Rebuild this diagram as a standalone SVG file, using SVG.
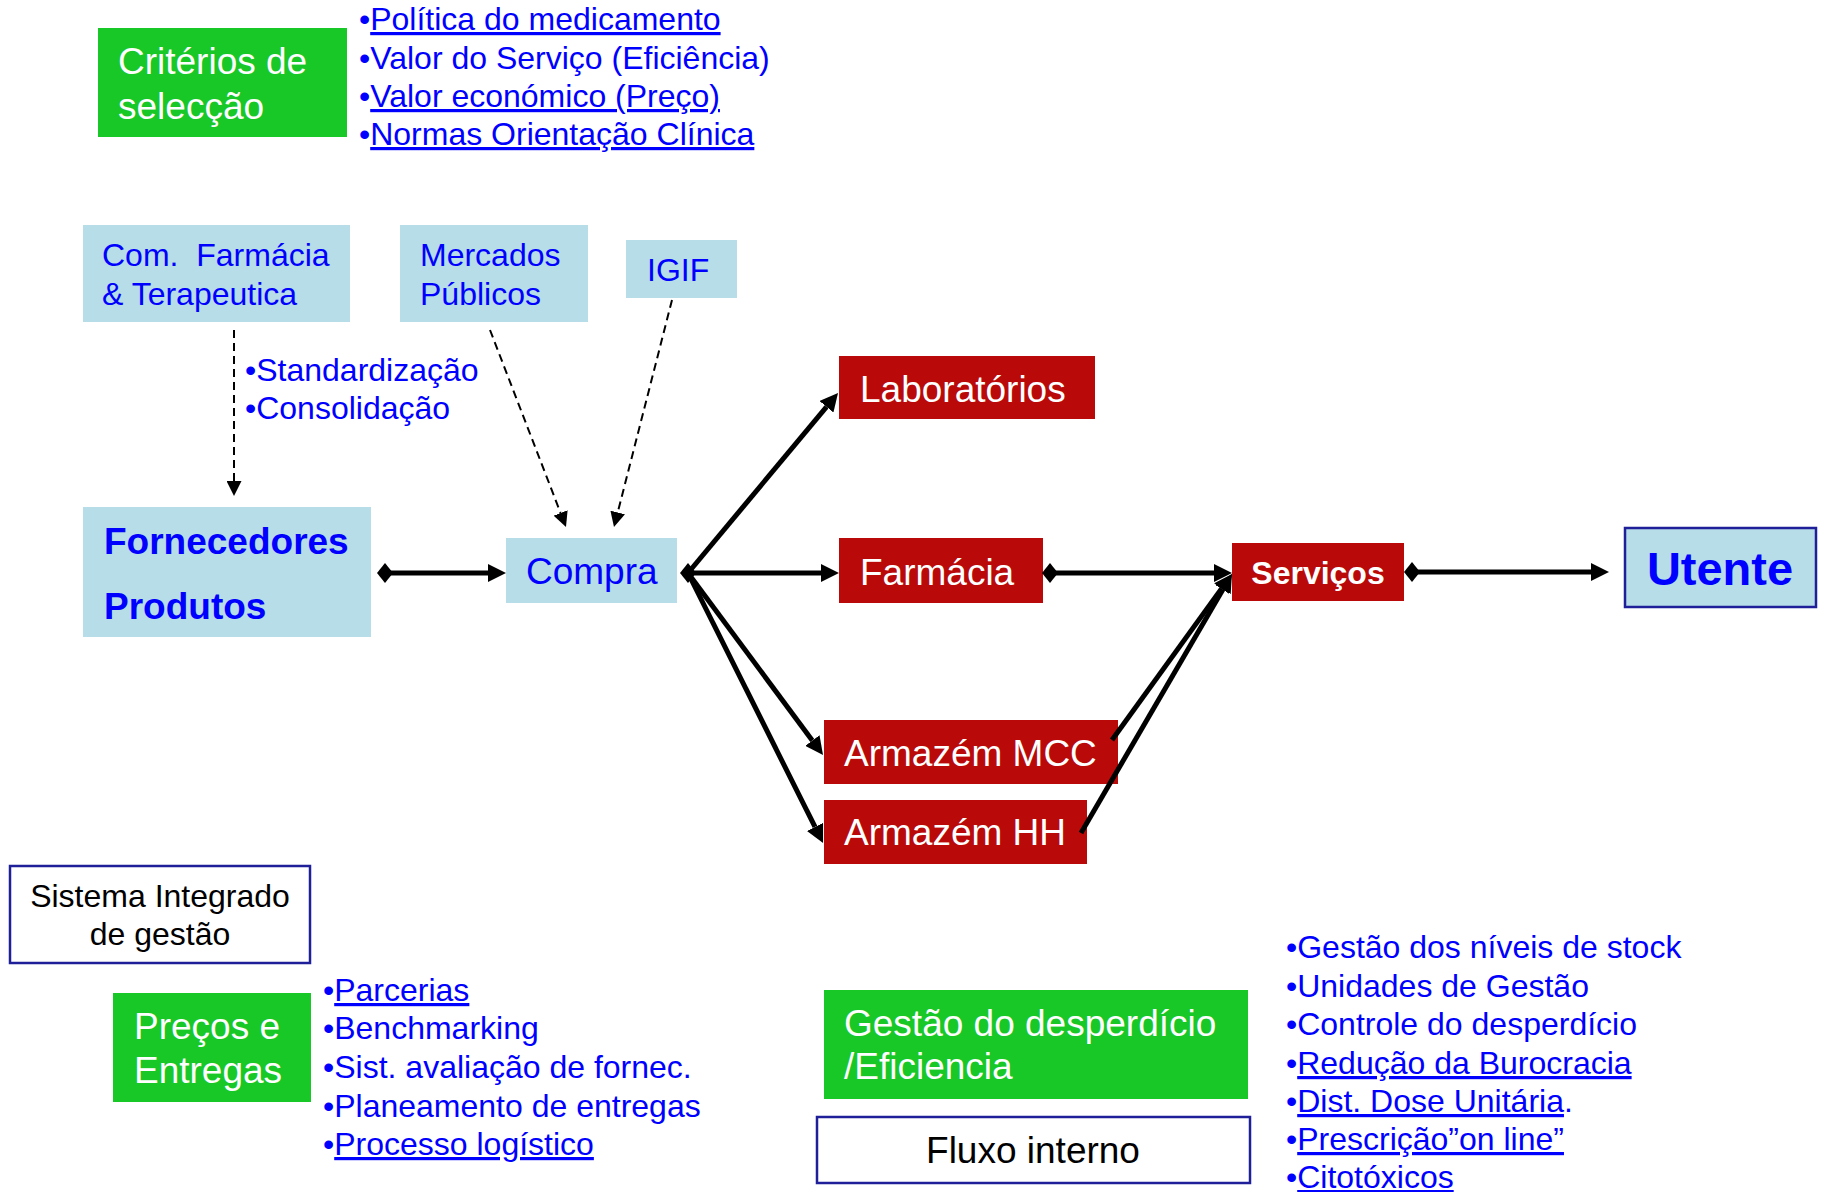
<svg xmlns="http://www.w3.org/2000/svg" width="1827" height="1192" viewBox="0 0 1827 1192">
<style>
text{font-family:"Liberation Sans",Arial,sans-serif;}
.g{fill:#17C826;}
.r{fill:#BA0909;}
.lb{fill:#B6DDE8;}
.wb{fill:#FFFFFF;stroke:#1F1F99;stroke-width:2.5;}
.ub{fill:#B6DDE8;stroke:#1F1F99;stroke-width:2.5;}
.wt{fill:#FFFFFF;font-size:37px;}
.bt{fill:#0000FF;font-size:32px;}
.kt{fill:#000000;}
.u{text-decoration:underline;}
.thick{stroke:#000;stroke-width:5;fill:none;}
.dash{stroke:#000;stroke-width:2;fill:none;stroke-dasharray:8 5;}
</style>
<defs>
<marker id="ah" markerUnits="userSpaceOnUse" markerWidth="18" markerHeight="18" refX="0" refY="9" orient="auto"><path d="M0,0 L18,9 L0,18 z" fill="#000"/></marker>
<marker id="dm" markerUnits="userSpaceOnUse" markerWidth="16" markerHeight="20" refX="8" refY="10" orient="auto"><path d="M0,10 L8,0 L16,10 L8,20 z" fill="#000"/></marker>
<marker id="ahs" markerUnits="userSpaceOnUse" markerWidth="15" markerHeight="15" refX="0" refY="7.5" orient="auto"><path d="M0,0 L15,7.5 L0,15 z" fill="#000"/></marker>
</defs>

<g id="criterios">
<rect class="g" x="98" y="28" width="249" height="109"/>
<text class="wt" x="118" y="74" font-size="38">Critérios de</text>
<text class="wt" x="118" y="119" font-size="38">selecção</text>
</g>
<g id="criterios-list">
<text class="bt" x="359" y="30">•<tspan class="u">Política do medicamento</tspan></text>
<text class="bt" x="359" y="69">•Valor do Serviço (Eficiência)</text>
<text class="bt" x="359" y="107">•<tspan class="u">Valor económico (Preço)</tspan></text>
<text class="bt" x="359" y="145">•<tspan class="u">Normas Orientação Clínica</tspan></text>
</g>

<g id="com-farmacia">
<rect class="lb" x="83" y="225" width="267" height="97"/>
<text class="bt" x="102" y="266" xml:space="preserve">Com.  Farmácia</text>
<text class="bt" x="102" y="305">&amp; Terapeutica</text>
</g>
<g id="mercados">
<rect class="lb" x="400" y="225" width="188" height="97"/>
<text class="bt" x="420" y="266">Mercados</text>
<text class="bt" x="420" y="305">Públicos</text>
</g>
<g id="igif">
<rect class="lb" x="626" y="240" width="111" height="58"/>
<text class="bt" x="647" y="281">IGIF</text>
</g>
<g id="std-list">
<text class="bt" x="245" y="381">•Standardização</text>
<text class="bt" x="245" y="419">•Consolidação</text>
</g>

<g id="fornecedores">
<rect class="lb" x="83" y="507" width="288" height="130"/>
<text x="104" y="554" style="fill:#0000FF;font-size:37px;font-weight:bold">Fornecedores</text>
<text x="104" y="619" style="fill:#0000FF;font-size:37px;font-weight:bold">Produtos</text>
</g>
<g id="compra">
<rect class="lb" x="506" y="538" width="171" height="65"/>
<text x="526" y="584" style="fill:#0000FF;font-size:37px">Compra</text>
</g>

<g id="laboratorios">
<rect class="r" x="839" y="356" width="256" height="63"/>
<text class="wt" x="860" y="402">Laboratórios</text>
</g>
<g id="farmacia">
<rect class="r" x="839" y="538" width="204" height="65"/>
<text class="wt" x="860" y="585">Farmácia</text>
</g>
<g id="armazem-mcc">
<rect class="r" x="824" y="720" width="294" height="64"/>
<text class="wt" x="844" y="766">Armazém MCC</text>
</g>
<g id="armazem-hh">
<rect class="r" x="824" y="800" width="263" height="64"/>
<text class="wt" x="844" y="845">Armazém HH</text>
</g>
<g id="servicos">
<rect class="r" x="1232" y="543" width="172" height="58"/>
<text x="1318" y="584" text-anchor="middle" style="fill:#FFFFFF;font-size:32px;font-weight:bold">Serviços</text>
</g>
<g id="utente">
<rect class="ub" x="1625" y="528" width="191" height="79"/>
<text x="1720" y="585" text-anchor="middle" style="fill:#0000FF;font-size:47px;font-weight:bold">Utente</text>
</g>

<g id="sistema">
<rect class="wb" x="10" y="866" width="300" height="97"/>
<text class="kt" x="160" y="907" text-anchor="middle" font-size="32">Sistema Integrado</text>
<text class="kt" x="160" y="945" text-anchor="middle" font-size="32">de gestão</text>
</g>
<g id="precos">
<rect class="g" x="113" y="993" width="198" height="109"/>
<text class="wt" x="134" y="1039">Preços e</text>
<text class="wt" x="134" y="1083">Entregas</text>
</g>
<g id="precos-list">
<text class="bt" x="323" y="1001">•<tspan class="u">Parcerias</tspan></text>
<text class="bt" x="323" y="1039">•Benchmarking</text>
<text class="bt" x="323" y="1078">•Sist. avaliação de fornec.</text>
<text class="bt" x="323" y="1117">•Planeamento de entregas</text>
<text class="bt" x="323" y="1155">•<tspan class="u">Processo logístico</tspan></text>
</g>

<g id="gestao">
<rect class="g" x="824" y="990" width="424" height="109"/>
<text class="wt" x="844" y="1036">Gestão do desperdício</text>
<text class="wt" x="844" y="1079">/Eficiencia</text>
</g>
<g id="fluxo">
<rect class="wb" x="817" y="1117" width="433" height="66"/>
<text class="kt" x="1033" y="1163" text-anchor="middle" font-size="37">Fluxo interno</text>
</g>
<g id="gestao-list">
<text class="bt" x="1286" y="958">•Gestão dos níveis de stock</text>
<text class="bt" x="1286" y="997">•Unidades de Gestão</text>
<text class="bt" x="1286" y="1035">•Controle do desperdício</text>
<text class="bt" x="1286" y="1074">•<tspan class="u">Redução da Burocracia</tspan></text>
<text class="bt" x="1286" y="1112">•<tspan class="u">Dist. Dose Unitária</tspan>.</text>
<text class="bt" x="1286" y="1150">•<tspan class="u">Prescrição”on line”</tspan></text>
<text class="bt" x="1286" y="1188">•<tspan class="u">Citotóxicos</tspan></text>
</g>

<g id="connectors">
<path class="dash" d="M234,330 L234,481" marker-end="url(#ahs)"/>
<path class="dash" d="M490,330 L560.6,513" marker-end="url(#ahs)"/>
<path class="dash" d="M672,300 L617.7,512.5" marker-end="url(#ahs)"/>
<path class="thick" d="M385,573 L488,573" marker-start="url(#dm)" marker-end="url(#ah)"/>
<path class="thick" d="M688,573 L821,573" marker-start="url(#dm)" marker-end="url(#ah)"/>
<path class="thick" d="M688,573 L826.5,406.8" marker-end="url(#ah)"/>
<path class="thick" d="M688,573 L812.3,740.5" marker-end="url(#ah)"/>
<path class="thick" d="M688,573 L815,826.9" marker-end="url(#ah)"/>
<path class="thick" d="M1050,573 L1214,573" marker-start="url(#dm)" marker-end="url(#ah)"/>
<path class="thick" d="M1112,740 L1221.5,588.6" marker-end="url(#ah)"/>
<path class="thick" d="M1081,833 L1222.9,589.6" marker-end="url(#ah)"/>
<path class="thick" d="M1412,572 L1591,572" marker-start="url(#dm)" marker-end="url(#ah)"/>
</g>
</svg>
